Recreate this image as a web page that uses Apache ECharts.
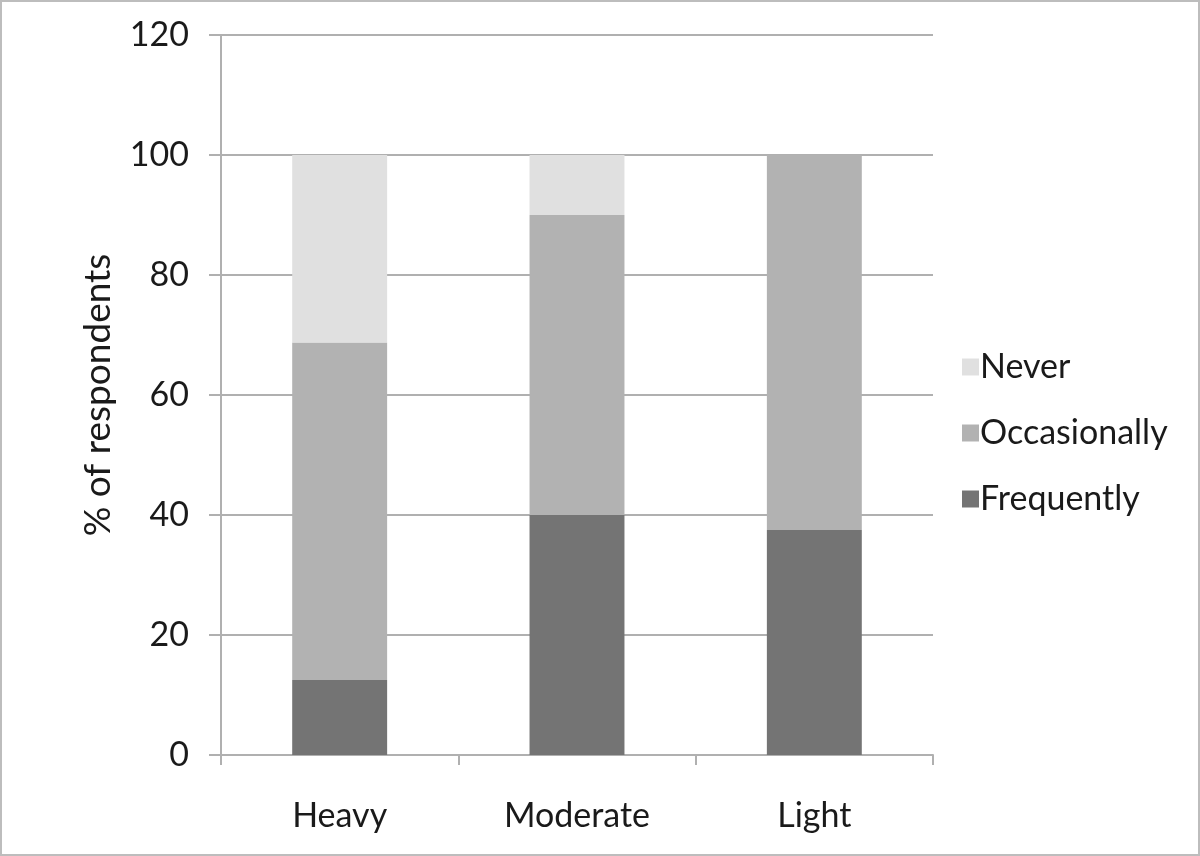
<!DOCTYPE html>
<html>
<head>
<meta charset="utf-8">
<script src="https://cdn.jsdelivr.net/npm/echarts@6/dist/echarts.min.js"></script>
<style>
  html, body { margin: 0; padding: 0; background: #fff; }
  #chart { width: 1200px; height: 856px; box-sizing: border-box; border: 2px solid #bdbdbd; }
</style>
</head>
<body>
<div id="chart"></div>
<script>
// Frequency of use by user group (% of respondents)
const categories = ['Heavy', 'Moderate', 'Light'];
const frequently = [12.5, 40, 37.5];
const occasionally = [56.25, 50, 62.5];
const never = [31.25, 10, 0];
const yTicks = [0, 20, 40, 60, 80, 100, 120];

const font = 'Lato, "Open Sans", sans-serif';
const chart = echarts.init(document.getElementById('chart'));

const barSeries = (name, data, color) => ({
  name: name,
  type: 'bar',
  stack: 'total',
  data: data,
  barWidth: '40%',
  itemStyle: { color: color },
  emphasis: { disabled: true }
});

chart.setOption({
  animation: false,
  grid: { left: 219, right: 265, top: 33, bottom: 99, containLabel: false },
  legend: {
    orient: 'vertical',
    left: 960,
    top: 348,
    padding: 0,
    itemWidth: 17,
    itemHeight: 17,
    itemGap: 32,
    icon: 'rect',
    data: ['Never', 'Occasionally', 'Frequently'],
    textStyle: { fontFamily: font, fontSize: 34, lineHeight: 34, color: '#1a1a1a', padding: [0, 0, 0, -4] }
  },
  xAxis: {
    type: 'category',
    data: categories,
    axisLine: { lineStyle: { color: '#b0b0b0', width: 2 } },
    axisTick: { show: true, length: 10, lineStyle: { color: '#b0b0b0', width: 2 } },
    axisLabel: { fontFamily: font, fontSize: 34, color: '#1a1a1a', margin: 44 }
  },
  yAxis: {
    type: 'value',
    min: 0,
    max: 120,
    interval: 20,
    name: '% of respondents',
    nameLocation: 'middle',
    nameGap: 104,
    nameTextStyle: { fontFamily: font, fontSize: 37, color: '#1a1a1a' },
    axisLine: { show: true, lineStyle: { color: '#b0b0b0', width: 2 } },
    axisTick: { show: true, length: 12, lineStyle: { color: '#b0b0b0', width: 2 } },
    splitLine: { show: true, lineStyle: { color: '#b0b0b0', width: 2 } },
    axisLabel: {
      fontFamily: font, fontSize: 34, color: '#1a1a1a', margin: 32,
      formatter: v => yTicks.includes(v) ? String(v) : ''
    }
  },
  series: [
    barSeries('Frequently', frequently, '#747474'),
    barSeries('Occasionally', occasionally, '#b2b2b2'),
    barSeries('Never', never, '#e0e0e0')
  ]
});
</script>
</body>
</html>
